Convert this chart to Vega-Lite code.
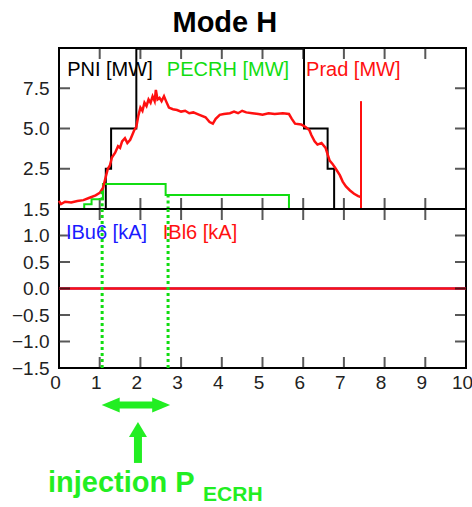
{
  "$schema": "https://vega.github.io/schema/vega-lite/v6.json",
  "padding": {"left": 10, "top": 9, "right": 5, "bottom": 0},
  "background": "white",
  "title": {"text": "Mode H", "font": "Liberation Sans", "fontSize": 29, "fontWeight": "bold", "color": "#000", "anchor": "start", "dx": 162, "offset": 0},
  "spacing": 0,
  "bounds": "flush",
  "config": {
    "view": {"stroke": "#000", "strokeWidth": 2},
    "axis": {"domain": false, "grid": false, "ticks": false, "offset": 0, "labelFont": "Liberation Sans", "labelFontSize": 19, "labelColor": "#222", "labelPadding": 10, "title": null, "labelFlush": false, "labelOverlap": false},
    "text": {"font": "Liberation Sans"}
  },
  "vconcat": [
    {
      "width": 407,
      "height": 161,
      "resolve": {"axis": {"x": "independent", "y": "independent"}},
      "layer": [
        {
          "data": {"values": [{"t": 1.15, "v": 0}, {"t": 1.15, "v": 2.5}, {"t": 1.28, "v": 5}, {"t": 1.9, "v": 9.95}, {"t": 6.02, "v": 5}, {"t": 6.6, "v": 2.5}, {"t": 6.76, "v": 0}]},
          "mark": {"type": "line", "interpolate": "step-after", "color": "#000", "strokeWidth": 2},
          "encoding": {
            "x": {"field": "t", "type": "quantitative", "scale": {"domain": [0, 10], "nice": false}, "axis": null},
            "y": {"field": "v", "type": "quantitative", "scale": {"domain": [0, 10], "nice": false}, "axis": {"orient": "left", "values": [0, 2.5, 5, 7.5, 10], "labelExpr": "datum.value == 0 || datum.value == 10 ? '' : format(datum.value, '.1f')"}}
          }
        },
        {
          "data": {"values": [{"t": 1}, {"t": 2}, {"t": 3}, {"t": 4}, {"t": 5}, {"t": 6}, {"t": 7}, {"t": 8}, {"t": 9}]},
          "mark": {"type": "tick", "orient": "vertical", "color": "#111111", "thickness": 2, "size": 11},
          "encoding": {
            "x": {"field": "t", "type": "quantitative", "axis": null},
            "y": {"datum": 0.34, "axis": null}
          }
        },
        {
          "data": {"values": [{"t": 1}, {"t": 2}, {"t": 3}, {"t": 4}, {"t": 5}, {"t": 6}, {"t": 7}, {"t": 8}, {"t": 9}]},
          "mark": {"type": "tick", "orient": "vertical", "color": "#111111", "thickness": 2, "size": 11},
          "encoding": {
            "x": {"field": "t", "type": "quantitative", "axis": null},
            "y": {"datum": 9.66, "axis": null}
          }
        },
        {
          "data": {"values": [{"v": 2.5}, {"v": 5}, {"v": 7.5}]},
          "mark": {"type": "tick", "orient": "horizontal", "color": "#111111", "thickness": 2, "size": 11},
          "encoding": {
            "y": {"field": "v", "type": "quantitative", "axis": null},
            "x": {"datum": 0.135, "axis": null}
          }
        },
        {
          "data": {"values": [{"v": 2.5}, {"v": 5}, {"v": 7.5}]},
          "mark": {"type": "tick", "orient": "horizontal", "color": "#111111", "thickness": 2, "size": 11},
          "encoding": {
            "y": {"field": "v", "type": "quantitative", "axis": null},
            "x": {"datum": 9.865, "axis": null}
          }
        },
        {
          "data": {"values": [{"t": 0.62, "v": 0}, {"t": 0.62, "v": 0.3}, {"t": 0.8, "v": 0.6}, {"t": 1.08, "v": 1.55}, {"t": 2.62, "v": 0.87}, {"t": 5.65, "v": 0}]},
          "mark": {"type": "line", "interpolate": "step-after", "color": "#11dd11", "strokeWidth": 2},
          "encoding": {
            "x": {"field": "t", "type": "quantitative", "axis": null},
            "y": {"field": "v", "type": "quantitative", "axis": null}
          }
        },
        {
          "data": {"values": [
            {"t": 0.0, "v": 0.5}, {"t": 0.05, "v": 0.3}, {"t": 0.15, "v": 0.45}, {"t": 0.3, "v": 0.4}, {"t": 0.45, "v": 0.5}, {"t": 0.6, "v": 0.55}, {"t": 0.75, "v": 0.7}, {"t": 0.9, "v": 0.85}, {"t": 1.0, "v": 1.0}, {"t": 1.08, "v": 1.3},
            {"t": 1.15, "v": 2.0}, {"t": 1.2, "v": 2.5}, {"t": 1.25, "v": 2.7}, {"t": 1.3, "v": 3.2}, {"t": 1.38, "v": 3.5}, {"t": 1.45, "v": 3.9}, {"t": 1.5, "v": 3.8}, {"t": 1.55, "v": 4.2}, {"t": 1.62, "v": 4.4}, {"t": 1.68, "v": 4.1},
            {"t": 1.75, "v": 4.3}, {"t": 1.8, "v": 4.6}, {"t": 1.85, "v": 4.9}, {"t": 1.9, "v": 5.1}, {"t": 1.95, "v": 5.8}, {"t": 2.0, "v": 6.3}, {"t": 2.05, "v": 6.1}, {"t": 2.1, "v": 6.6}, {"t": 2.15, "v": 6.4}, {"t": 2.2, "v": 6.8},
            {"t": 2.25, "v": 6.6}, {"t": 2.3, "v": 7.0}, {"t": 2.35, "v": 6.7}, {"t": 2.38, "v": 7.4}, {"t": 2.42, "v": 6.8}, {"t": 2.47, "v": 6.9}, {"t": 2.52, "v": 6.7}, {"t": 2.58, "v": 7.0}, {"t": 2.63, "v": 6.7}, {"t": 2.7, "v": 6.3},
            {"t": 2.8, "v": 6.2}, {"t": 2.9, "v": 6.15}, {"t": 3.0, "v": 6.05}, {"t": 3.1, "v": 6.1}, {"t": 3.2, "v": 5.95}, {"t": 3.3, "v": 6.0}, {"t": 3.45, "v": 5.85}, {"t": 3.6, "v": 5.7}, {"t": 3.7, "v": 5.4}, {"t": 3.78, "v": 5.3},
            {"t": 3.85, "v": 5.6}, {"t": 3.95, "v": 5.85}, {"t": 4.05, "v": 5.9}, {"t": 4.2, "v": 5.95}, {"t": 4.3, "v": 6.05}, {"t": 4.4, "v": 5.95}, {"t": 4.5, "v": 6.1}, {"t": 4.6, "v": 6.0}, {"t": 4.75, "v": 5.95}, {"t": 4.9, "v": 5.9},
            {"t": 5.0, "v": 5.85}, {"t": 5.15, "v": 5.95}, {"t": 5.3, "v": 5.9}, {"t": 5.5, "v": 5.95}, {"t": 5.65, "v": 5.9}, {"t": 5.72, "v": 5.6}, {"t": 5.8, "v": 5.3}, {"t": 5.95, "v": 5.25}, {"t": 6.05, "v": 5.1}, {"t": 6.15, "v": 4.9},
            {"t": 6.2, "v": 4.6}, {"t": 6.28, "v": 4.2}, {"t": 6.35, "v": 4.0}, {"t": 6.45, "v": 4.1}, {"t": 6.55, "v": 3.8}, {"t": 6.6, "v": 3.4}, {"t": 6.65, "v": 3.0}, {"t": 6.72, "v": 2.8}, {"t": 6.8, "v": 2.5}, {"t": 6.9, "v": 2.1},
            {"t": 6.97, "v": 1.7}, {"t": 7.05, "v": 1.4}, {"t": 7.15, "v": 1.15}, {"t": 7.25, "v": 0.95}, {"t": 7.35, "v": 0.8}, {"t": 7.42, "v": 0.75}
          ]},
          "mark": {"type": "line", "color": "#ff1010", "strokeWidth": 2.5},
          "encoding": {
            "x": {"field": "t", "type": "quantitative", "axis": null},
            "y": {"field": "v", "type": "quantitative", "axis": null}
          }
        },
        {
          "data": {"values": [{"t": 7.42, "v1": 0, "v2": 6.7}]},
          "mark": {"type": "rule", "color": "#ff1010", "strokeWidth": 2},
          "encoding": {
            "x": {"field": "t", "type": "quantitative", "axis": null},
            "y": {"field": "v1", "type": "quantitative", "axis": null},
            "y2": {"field": "v2"}
          }
        },
        {
          "data": {"values": [{"t": 1.06, "v1": 1.1, "v2": 0}, {"t": 2.68, "v1": 0.9, "v2": 0}]},
          "mark": {"type": "rule", "color": "#11dd11", "strokeWidth": 3, "strokeDash": [3, 3]},
          "encoding": {
            "x": {"field": "t", "type": "quantitative", "axis": null},
            "y": {"field": "v1", "type": "quantitative", "axis": null},
            "y2": {"field": "v2"}
          }
        },
        {
          "data": {"values": [{"t": 0.2, "v": 8.25, "label": "PNI [MW]", "c": "#000000"}, {"t": 2.65, "v": 8.25, "label": "PECRH [MW]", "c": "#11dd11"}, {"t": 6.07, "v": 8.25, "label": "Prad [MW]", "c": "#ff1010"}]},
          "mark": {"type": "text", "align": "left", "baseline": "alphabetic", "fontSize": 20},
          "encoding": {
            "x": {"field": "t", "type": "quantitative", "axis": null},
            "y": {"field": "v", "type": "quantitative", "axis": null},
            "text": {"field": "label"},
            "color": {"field": "c", "type": "nominal", "scale": null}
          }
        }
      ]
    },
    {
      "width": 407,
      "height": 159,
      "resolve": {"axis": {"x": "independent", "y": "independent"}},
      "layer": [
        {
          "data": {"values": [{"t": 0, "v": 0}, {"t": 10, "v": 0}]},
          "mark": {"type": "line", "color": "#0000ff", "strokeWidth": 2},
          "encoding": {
            "x": {"field": "t", "type": "quantitative", "scale": {"domain": [0, 10], "nice": false}, "axis": {"orient": "bottom", "values": [0, 1, 2, 3, 4, 5, 6, 7, 8, 9, 10], "format": "d", "labelFontSize": 19, "labelPadding": 5, "labelOffset": -4}},
            "y": {"field": "v", "type": "quantitative", "scale": {"domain": [-1.5, 1.5], "nice": false}, "axis": {"orient": "left", "values": [-1.5, -1, -0.5, 0, 0.5, 1, 1.5], "format": ".1f"}}
          }
        },
        {
          "data": {"values": [{"t": 0, "v": 0}, {"t": 10, "v": 0}]},
          "mark": {"type": "line", "color": "#ff1010", "strokeWidth": 2.5},
          "encoding": {
            "x": {"field": "t", "type": "quantitative", "axis": null},
            "y": {"field": "v", "type": "quantitative", "axis": null}
          }
        },
        {
          "data": {"values": [{"t": 1}, {"t": 2}, {"t": 3}, {"t": 4}, {"t": 5}, {"t": 6}, {"t": 7}, {"t": 8}, {"t": 9}]},
          "mark": {"type": "tick", "orient": "vertical", "color": "#111111", "thickness": 2, "size": 11},
          "encoding": {
            "x": {"field": "t", "type": "quantitative", "axis": null},
            "y": {"datum": -1.396, "axis": null}
          }
        },
        {
          "data": {"values": [{"t": 1}, {"t": 2}, {"t": 3}, {"t": 4}, {"t": 5}, {"t": 6}, {"t": 7}, {"t": 8}, {"t": 9}]},
          "mark": {"type": "tick", "orient": "vertical", "color": "#111111", "thickness": 2, "size": 11},
          "encoding": {
            "x": {"field": "t", "type": "quantitative", "axis": null},
            "y": {"datum": 1.396, "axis": null}
          }
        },
        {
          "data": {"values": [{"v": -1}, {"v": -0.5}, {"v": 0}, {"v": 0.5}, {"v": 1}]},
          "mark": {"type": "tick", "orient": "horizontal", "color": "#111111", "thickness": 2, "size": 11},
          "encoding": {
            "y": {"field": "v", "type": "quantitative", "axis": null},
            "x": {"datum": 0.135, "axis": null}
          }
        },
        {
          "data": {"values": [{"v": -1}, {"v": -0.5}, {"v": 0}, {"v": 0.5}, {"v": 1}]},
          "mark": {"type": "tick", "orient": "horizontal", "color": "#111111", "thickness": 2, "size": 11},
          "encoding": {
            "y": {"field": "v", "type": "quantitative", "axis": null},
            "x": {"datum": 9.865, "axis": null}
          }
        },
        {
          "data": {"values": [{"t": 1.06, "v1": 1.5, "v2": -1.5}, {"t": 2.68, "v1": 1.5, "v2": -1.5}]},
          "mark": {"type": "rule", "color": "#11dd11", "strokeWidth": 3, "strokeDash": [3, 3]},
          "encoding": {
            "x": {"field": "t", "type": "quantitative", "axis": null},
            "y": {"field": "v1", "type": "quantitative", "axis": null},
            "y2": {"field": "v2"}
          }
        },
        {
          "data": {"values": [{"t": 0.17, "v": 0.94, "label": "IBu6 [kA]", "c": "#1a1aff"}, {"t": 2.55, "v": 0.94, "label": "IBl6 [kA]", "c": "#ff1010"}]},
          "mark": {"type": "text", "align": "left", "baseline": "alphabetic", "fontSize": 20},
          "encoding": {
            "x": {"field": "t", "type": "quantitative", "axis": null},
            "y": {"field": "v", "type": "quantitative", "axis": null},
            "text": {"field": "label"},
            "color": {"field": "c", "type": "nominal", "scale": null}
          }
        }
      ]
    },
    {
      "width": 407,
      "height": 139,
      "view": {"stroke": null},
      "layer": [
        {
          "data": {"values": [{"t1": 1.27, "t2": 2.51, "v": 7.34}]},
          "mark": {"type": "rule", "color": "#22ee22", "strokeWidth": 7},
          "encoding": {
            "x": {"field": "t1", "type": "quantitative", "scale": {"domain": [0, 10], "nice": false}, "axis": null},
            "x2": {"field": "t2"},
            "y": {"field": "v", "type": "quantitative", "scale": {"domain": [0, 10], "nice": false}, "axis": null}
          }
        },
        {
          "data": {"values": [{"t": 1.94, "v1": 5.04, "v2": 3.17}]},
          "mark": {"type": "rule", "color": "#22ee22", "strokeWidth": 8},
          "encoding": {
            "x": {"field": "t", "type": "quantitative", "axis": null},
            "y": {"field": "v1", "type": "quantitative", "axis": null},
            "y2": {"field": "v2"}
          }
        },
        {
          "data": {"values": [{"t": 1.27, "v": 7.34, "s": "left"}, {"t": 2.51, "v": 7.34, "s": "right"}, {"t": 1.94, "v": 5.58, "s": "up"}]},
          "mark": {"type": "point", "filled": true, "opacity": 1, "color": "#22ee22", "size": 324},
          "encoding": {
            "x": {"field": "t", "type": "quantitative", "axis": null},
            "y": {"field": "v", "type": "quantitative", "axis": null},
            "shape": {"field": "s", "type": "nominal", "scale": {"domain": ["left", "right", "up"], "range": ["M 1 -0.83 L -1 0 L 1 0.83 Z", "M -1 -0.83 L 1 0 L -1 0.83 Z", "M -1 0.83 L 0 -0.83 L 1 0.83 Z"]}, "legend": null}
          }
        },
        {
          "data": {"values": [{"t": -0.27, "v": 1.08, "label": "injection P", "fs": 29}, {"t": 3.54, "v": 0.43, "label": "ECRH", "fs": 21}]},
          "mark": {"type": "text", "align": "left", "baseline": "alphabetic", "fontWeight": "bold", "color": "#22ee22"},
          "encoding": {
            "x": {"field": "t", "type": "quantitative", "axis": null},
            "y": {"field": "v", "type": "quantitative", "axis": null},
            "text": {"field": "label"},
            "size": {"field": "fs", "type": "quantitative", "scale": null, "legend": null}
          }
        }
      ]
    }
  ]
}
